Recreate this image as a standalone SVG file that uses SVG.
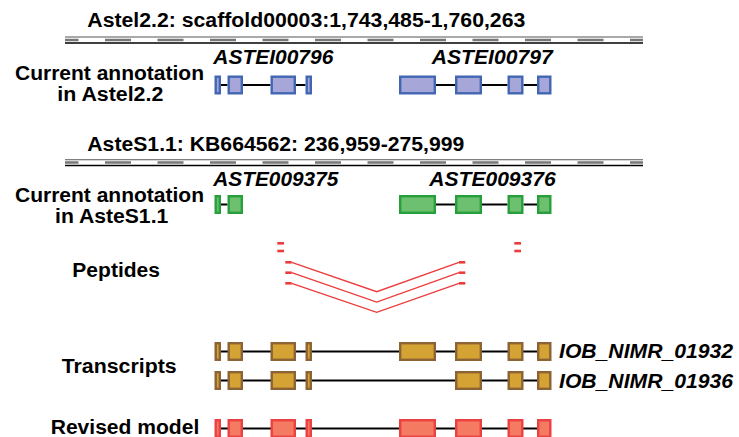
<svg xmlns="http://www.w3.org/2000/svg" width="739" height="437" viewBox="0 0 739 437">
<style>
text{font-family:"Liberation Sans",Arial,sans-serif;font-weight:bold;font-size:20px;fill:#000}
.it{font-style:italic}
.intron{stroke:#000;stroke-width:2;fill:none}
.blue{fill:#a6a6d9;stroke:#4267b2;stroke-width:2.4}
.green{fill:#6cc070;stroke:#27a03c;stroke-width:2.4}
.gold{fill:#d5a333;stroke:#8c6334;stroke-width:2.4}
.red{fill:#f47a62;stroke:#ec4142;stroke-width:2.4}
.topl{stroke:#555;stroke-width:1.1}
.dash{stroke:#777;stroke-width:2.6;stroke-dasharray:26 26.5;stroke-dashoffset:12.5}
.botl{stroke:#000;stroke-width:1.5}
.pep{stroke:#ec3b3b;stroke-width:2.6}
.pepl{stroke:#ec3b3b;stroke-width:1.3;fill:none}
</style>
<rect width="739" height="437" fill="#fff"/>

<g id="scaffold1">
<text x="87.3" y="27.3" textLength="438" lengthAdjust="spacingAndGlyphs">Astel2.2: scaffold00003:1,743,485-1,760,263</text>
<line class="topl" x1="65" y1="37" x2="643" y2="37"/>
<line class="dash" x1="65" y1="40" x2="643" y2="40"/>
<line class="botl" x1="65" y1="43" x2="643" y2="43"/>
</g>

<g id="label-astel">
<text x="15" y="80" textLength="189" lengthAdjust="spacingAndGlyphs">Current annotation</text>
<text x="57.3" y="100.5" textLength="106" lengthAdjust="spacingAndGlyphs">in Astel2.2</text>
</g>

<g id="connectors">
<polyline class="intron" points="221,85 227.5,85"/>
<polyline class="intron" points="243,85 270.5,85"/>
<polyline class="intron" points="296,85 305.5,85"/>
<polyline class="intron" points="436,85 455,85"/>
<polyline class="intron" points="482,85 507.5,85"/>
<polyline class="intron" points="523.5,85 537,85"/>
<polyline class="intron" points="221,204.5 227.5,204.5"/>
<polyline class="intron" points="436,204.5 455,204.5"/>
<polyline class="intron" points="482,204.5 507.5,204.5"/>
<polyline class="intron" points="523.5,204.5 537,204.5"/>
<polyline class="intron" points="221,351.5 537,351.5"/>
<polyline class="intron" points="221,380.5 537,380.5"/>
<polyline class="intron" points="221,428.5 537,428.5"/>
<polyline class="pepl" points="291.7,262.3 376.7,291.7 459,262.3"/>
<polyline class="pepl" points="291.7,272.7 376.7,302 459,272.7"/>
<polyline class="pepl" points="291.7,283.3 376.7,312.3 459,283.3"/>
</g>

<g id="ASTEI00796">
<text class="it" x="213.3" y="64.3" textLength="120" lengthAdjust="spacingAndGlyphs">ASTEI00796</text>
<rect class="blue" x="215.7" y="76.7" width="4.1" height="16.6"/>
<rect class="blue" x="228.7" y="76.7" width="13.1" height="16.6"/>
<rect class="blue" x="271.7" y="76.7" width="23.1" height="16.6"/>
<rect class="blue" x="306.7" y="76.7" width="4.1" height="16.6"/>
</g>

<g id="ASTEI00797">
<text class="it" x="431.7" y="64.3" textLength="121" lengthAdjust="spacingAndGlyphs">ASTEI00797</text>
<rect class="blue" x="400.2" y="76.7" width="34.6" height="16.6"/>
<rect class="blue" x="456.2" y="76.7" width="24.6" height="16.6"/>
<rect class="blue" x="508.7" y="76.7" width="13.6" height="16.6"/>
<rect class="blue" x="538.2" y="76.7" width="12.1" height="16.6"/>
</g>

<g id="scaffold2">
<text x="87.3" y="150.7" textLength="377" lengthAdjust="spacingAndGlyphs">AsteS1.1: KB664562: 236,959-275,999</text>
<line class="topl" x1="65" y1="159.8" x2="643" y2="159.8"/>
<line class="dash" x1="65" y1="162.5" x2="643" y2="162.5"/>
<line class="botl" x1="65" y1="165.6" x2="643" y2="165.6"/>
</g>

<g id="label-astes">
<text x="15" y="202.3" textLength="189" lengthAdjust="spacingAndGlyphs">Current annotation</text>
<text x="55" y="222.8" textLength="113.3" lengthAdjust="spacingAndGlyphs">in AsteS1.1</text>
</g>

<g id="ASTE009375">
<text class="it" x="213.3" y="185.7" textLength="125" lengthAdjust="spacingAndGlyphs">ASTE009375</text>
<rect class="green" x="215.7" y="196.2" width="4.1" height="16.6"/>
<rect class="green" x="228.7" y="196.2" width="13.1" height="16.6"/>
</g>

<g id="ASTE009376">
<text class="it" x="429.3" y="185.7" textLength="126.4" lengthAdjust="spacingAndGlyphs">ASTE009376</text>
<rect class="green" x="400.2" y="196.2" width="34.6" height="16.6"/>
<rect class="green" x="456.2" y="196.2" width="24.6" height="16.6"/>
<rect class="green" x="508.7" y="196.2" width="13.6" height="16.6"/>
<rect class="green" x="538.2" y="196.2" width="12.1" height="16.6"/>
</g>

<g id="peptides">
<text x="72.3" y="276.7" textLength="87.7" lengthAdjust="spacingAndGlyphs">Peptides</text>
<line class="pep" x1="277.3" y1="243.3" x2="284" y2="243.3"/>
<line class="pep" x1="277.3" y1="251" x2="284" y2="251"/>
<line class="pep" x1="514.3" y1="243.3" x2="521" y2="243.3"/>
<line class="pep" x1="514.3" y1="251" x2="521" y2="251"/>
<line class="pep" x1="285.3" y1="262.3" x2="291.7" y2="262.3"/>
<line class="pep" x1="285.3" y1="272.7" x2="291.7" y2="272.7"/>
<line class="pep" x1="285.3" y1="283.3" x2="291.7" y2="283.3"/>
<line class="pep" x1="459" y1="262.3" x2="465.3" y2="262.3"/>
<line class="pep" x1="459" y1="272.7" x2="465.3" y2="272.7"/>
<line class="pep" x1="459" y1="283.3" x2="465.3" y2="283.3"/>
</g>

<g id="label-transcripts">
<text x="61.7" y="373.3" textLength="115" lengthAdjust="spacingAndGlyphs">Transcripts</text>
</g>

<g id="IOB_NIMR_01932">
<rect class="gold" x="215.7" y="343.2" width="4.1" height="16.6"/>
<rect class="gold" x="228.7" y="343.2" width="13.1" height="16.6"/>
<rect class="gold" x="271.7" y="343.2" width="23.1" height="16.6"/>
<rect class="gold" x="306.7" y="343.2" width="4.1" height="16.6"/>
<rect class="gold" x="400.2" y="343.2" width="34.6" height="16.6"/>
<rect class="gold" x="456.2" y="343.2" width="24.6" height="16.6"/>
<rect class="gold" x="508.7" y="343.2" width="13.6" height="16.6"/>
<rect class="gold" x="538.2" y="343.2" width="12.1" height="16.6"/>
<text class="it" x="559" y="357.5" textLength="174" lengthAdjust="spacingAndGlyphs">IOB_NIMR_01932</text>
</g>

<g id="IOB_NIMR_01936">
<rect class="gold" x="215.7" y="372.2" width="4.1" height="16.6"/>
<rect class="gold" x="228.7" y="372.2" width="13.1" height="16.6"/>
<rect class="gold" x="271.7" y="372.2" width="23.1" height="16.6"/>
<rect class="gold" x="306.7" y="372.2" width="4.1" height="16.6"/>
<rect class="gold" x="456.2" y="372.2" width="24.6" height="16.6"/>
<rect class="gold" x="508.7" y="372.2" width="13.6" height="16.6"/>
<rect class="gold" x="538.2" y="372.2" width="12.1" height="16.6"/>
<text class="it" x="559" y="387.7" textLength="174" lengthAdjust="spacingAndGlyphs">IOB_NIMR_01936</text>
</g>

<g id="revised-model">
<text x="50.7" y="434.3" textLength="148.6" lengthAdjust="spacingAndGlyphs">Revised model</text>
<rect class="red" x="215.7" y="420.2" width="4.1" height="16.6"/>
<rect class="red" x="228.7" y="420.2" width="13.1" height="16.6"/>
<rect class="red" x="271.7" y="420.2" width="23.1" height="16.6"/>
<rect class="red" x="306.7" y="420.2" width="4.1" height="16.6"/>
<rect class="red" x="400.2" y="420.2" width="34.6" height="16.6"/>
<rect class="red" x="456.2" y="420.2" width="24.6" height="16.6"/>
<rect class="red" x="508.7" y="420.2" width="13.6" height="16.6"/>
<rect class="red" x="538.2" y="420.2" width="12.1" height="16.6"/>
</g>
</svg>
